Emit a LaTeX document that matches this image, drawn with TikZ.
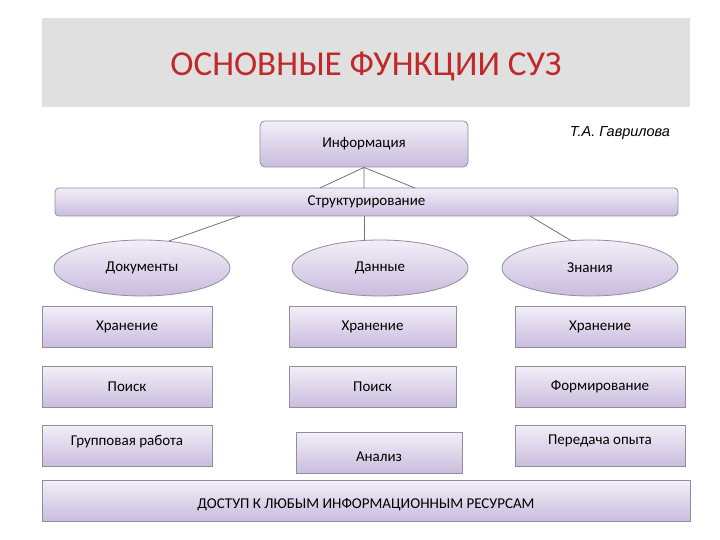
\documentclass[tikz,border=0pt]{standalone}
\usepackage{fontspec}
\setmainfont{Carlito}
\newfontfamily\arialf{Liberation Sans}
\usetikzlibrary{shapes.geometric}
\definecolor{lav1}{HTML}{F3EEF8}
\definecolor{lav2}{HTML}{C9BCDD}
\definecolor{bord}{HTML}{8E8E9E}
\definecolor{titred}{HTML}{C0282A}
\tikzset{
  bx/.style={draw=bord, line width=0.8pt, top color=lav1, bottom color=lav2, rounded corners=2pt, font=\fontsize{15}{17}\selectfont},
  ell/.style={ellipse, draw=bord, line width=0.8pt, top color=lav1, bottom color=lav2, font=\fontsize{15}{17}\selectfont, minimum width=176pt, minimum height=56pt},
  ln/.style={draw=bord!80!black, line width=0.8pt}
}
\begin{document}
\begin{tikzpicture}[x=1pt,y=-1pt]
\useasboundingbox (0,0) rectangle (720,540);
\fill[white] (0,0) rectangle (720,540);
\fill[black!12] (42,18) rectangle (690,107);
\node[font=\fontsize{35}{40}\selectfont, text=titred] (title) at (366,66) {ОСНОВНЫЕ ФУНКЦИИ СУЗ};
\node[font=\arialf\itshape\fontsize{14.5}{17}\selectfont] (author) at (620,133) {Т.А. Гаврилова};
\node[bx, rounded corners=5pt, minimum width=208pt, minimum height=46pt] (inf) at (364,144) {Информация};
\node[bx, minimum width=623pt, minimum height=28pt, rounded corners=4pt] (str) at (366.5,202) {Структурирование};
\coordinate (s1) at (320,188); \coordinate (s2) at (364,188); \coordinate (s3) at (415,188);
\draw[ln] (inf.south) -- (s1) (inf.south) -- (s2) (inf.south) -- (s3);
\node[ell] (doc) at (142,268) {Документы};
\node[ell] (dat) at (380,268) {Данные};
\node[ell] (zn) at (590,268) {Знания};
\draw[ln] (240,216) -- (doc.45);
\draw[ln] (364,216) -- (364,240);
\draw[ln] (530,216) -- (zn.125);
\begin{scope}[every node/.style={bx, rounded corners=0pt, minimum width=170pt, minimum height=41pt}]
\node (h1) at (127,327) {Хранение};
\node[minimum width=167pt] (h2) at (372.5,327) {Хранение};
\node (h3) at (600,327) {Хранение};
\node (p1) at (127,387) {Поиск};
\node[minimum width=167pt] (p2) at (372.5,387) {Поиск};
\node (p3) at (600,387) {Формирование};
\node[text depth=12pt] (g1) at (127,446) {Групповая работа};
\node[minimum width=166pt, text height=18pt] (a2) at (379,453) {Анализ};
\node[text depth=12pt] (g3) at (600,446) {Передача опыта};
\node[minimum width=648pt, text height=18pt] (acc) at (366,501) {ДОСТУП К ЛЮБЫМ ИНФОРМАЦИОННЫМ РЕСУРСАМ};
\end{scope}
\end{tikzpicture}
\end{document}
